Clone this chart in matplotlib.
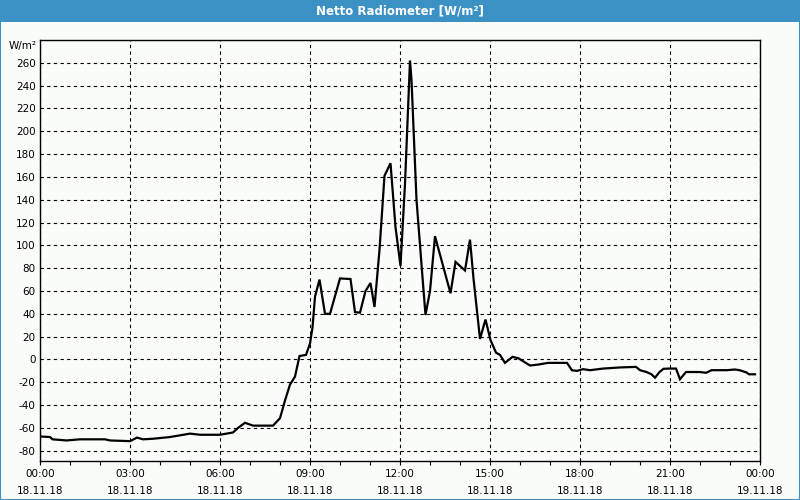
import numpy as np
import matplotlib
matplotlib.use("Agg")
import matplotlib.pyplot as plt
from matplotlib.patches import Rectangle

zeiten = ["00:00", "00:20", "00:25", "00:53", "01:20", "02:10", "02:20", "03:00",
          "03:14", "03:26", "03:46", "04:20", "05:00", "05:20", "06:00", "06:26",
          "06:36", "06:50", "07:06", "07:46", "08:00", "08:10", "08:20", "08:30",
          "08:39", "08:52", "09:00", "09:05", "09:10", "09:19", "09:30", "09:40",
          "10:00", "10:21", "10:30", "10:40", "10:51", "11:01", "11:09", "11:19",
          "11:29", "11:41", "11:51", "12:01", "12:10", "12:20", "12:23", "12:33",
          "12:45", "12:51", "13:00", "13:10", "13:41", "13:51", "14:10", "14:20",
          "14:27", "14:40", "14:51", "15:01", "15:12", "15:20", "15:30", "15:45",
          "15:57", "16:20", "16:36", "16:56", "17:34", "17:44", "17:54", "18:06",
          "18:20", "18:46", "19:20", "19:52", "20:00", "20:13", "20:23", "20:30",
          "20:39", "20:47", "20:57", "21:12", "21:20", "21:32", "22:00", "22:12",
          "22:23", "22:54", "23:10", "23:20", "23:33", "23:38", "23:50"]
werte = [-67.5, -68, -70, -71, -70, -70, -71, -71.6,
         -68.5, -70, -69.5, -68, -65, -66, -66, -64,
         -60, -55.5, -58, -58, -51.5, -36, -22, -15,
         3, 4, 14, 28, 55, 70, 40, 40,
         71, 70.5, 41.5, 41, 60, 67, 46, 96,
         161, 172, 116, 82, 154, 262, 245, 140,
         72, 39, 60, 108, 58, 85.5, 78, 105,
         71, 18, 35, 17, 6, 4, -3, 2.3,
         1, -5.3, -4.5, -3, -3, -9.5, -10, -8.5,
         -9.4, -8, -7, -6.5, -9.4, -11, -13, -16,
         -11, -8.2, -8, -8, -17.3, -11, -11, -11.7,
         -9.4, -9.4, -8.8, -9.5, -11.4, -13, -13]

tick_std = [0, 3, 6, 9, 12, 15, 18, 21, 24]
tick_labels = ["00:00\n18.11.18", "03:00\n18.11.18", "06:00\n18.11.18",
               "09:00\n18.11.18", "12:00\n18.11.18", "15:00\n18.11.18",
               "18:00\n18.11.18", "21:00\n18.11.18", "00:00\n19.11.18"]
y_ticks = list(range(-80, 261, 20))

stunden = [int(t[:2]) + int(t[3:]) / 60 for t in zeiten]

blau = "#3c91c4"
hg = "#fafcfa"

fig = plt.figure(figsize=(8, 5), dpi=100, facecolor=hg)

# Fensterrahmen und Titelleiste
fig.patches.append(Rectangle((0, 0), 1, 1, transform=fig.transFigure,
                             fill=False, edgecolor=blau, linewidth=1.5))
fig.patches.append(Rectangle((0, 1 - 22 / 500), 1, 22 / 500, transform=fig.transFigure,
                             facecolor=blau, edgecolor="none"))
fig.text(0.5, 1 - 11 / 500, "Netto Radiometer [W/m²]", color="white",
         fontsize=8.5, fontweight="bold", ha="center", va="center")

ax = fig.add_axes([40 / 800, 39 / 500, 720 / 800, 421 / 500])
ax.set_facecolor(hg)
ax.plot(stunden, werte, color="black", linewidth=1.6, solid_joinstyle="miter")

ax.set_xlim(0, 24)
ax.set_ylim(-89, 280)
ax.set_xticks(tick_std)
ax.set_xticklabels(tick_labels, fontsize=7.5, linespacing=1.8)
ax.set_xticks(range(0, 25), minor=True)
ax.set_yticks(y_ticks)
ax.set_yticklabels([str(v) for v in y_ticks], fontsize=7.5)

ax.tick_params(axis="x", which="both", direction="out", length=3, width=0.8, pad=3)
ax.tick_params(axis="y", length=0, pad=3)
ax.grid(True, color="black", linestyle=(0, (3, 3)), linewidth=0.8)
for s in ax.spines.values():
    s.set_linewidth(1.0)

ax.text(-0.004, 0.986, "W/m²", transform=ax.transAxes, fontsize=7.5,
        ha="right", va="center")

fig.savefig("out.png", dpi=100, facecolor=hg)
